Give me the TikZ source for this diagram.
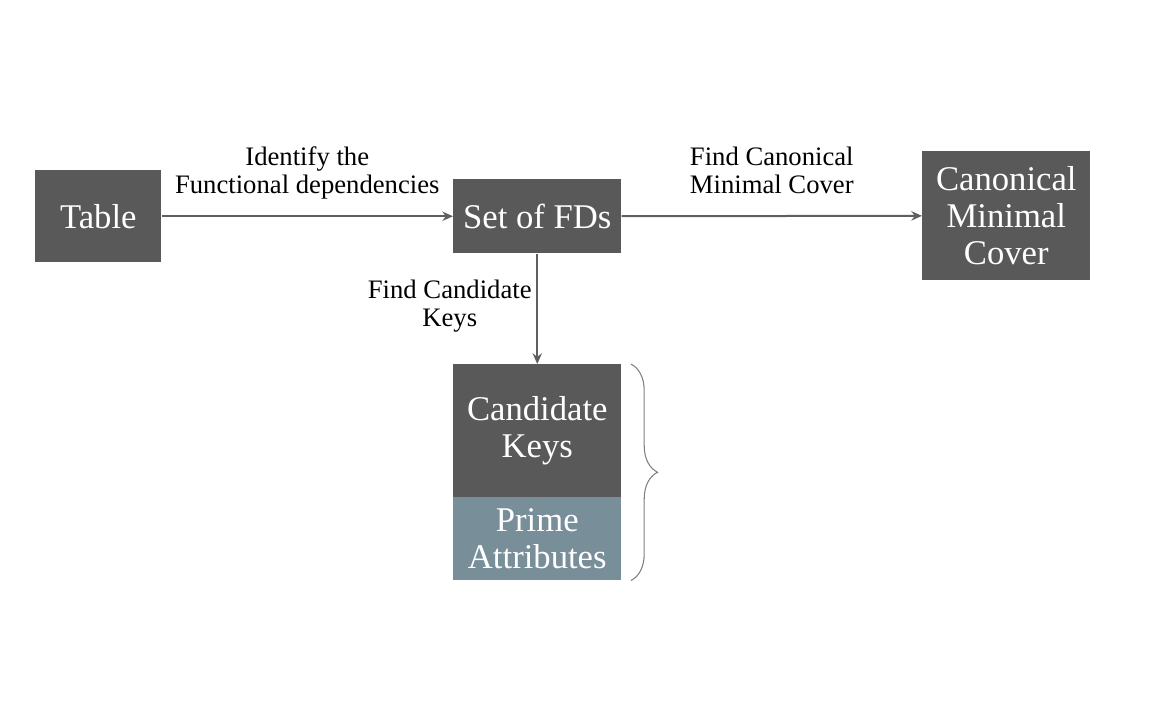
\documentclass[tikz,border=0pt]{standalone}
\usepackage{fontspec}
\setmainfont{Liberation Serif}
\usepackage{tikz}
\usetikzlibrary{arrows.meta}
\usetikzlibrary{positioning}
\usetikzlibrary{decorations.pathreplacing}
\definecolor{boxgray}{HTML}{595959}
\definecolor{primeblue}{HTML}{788E99}
\definecolor{linegray}{HTML}{5F5F5F}
\tikzset{
  stepbox/.style={rectangle, fill=boxgray, text=white, align=center, inner sep=0pt, anchor=north west, font=\fontsize{26pt}{28pt}\selectfont},
  flow/.style={draw=linegray, line width=1.5pt, -{Stealth[length=8pt,width=7pt]}},
  steplabel/.style={align=center, inner sep=0pt, font=\fontsize{20pt}{21pt}\selectfont}
}
\begin{document}
\begin{tikzpicture}[x=0.75pt, y=-0.75pt]
\useasboundingbox (0,0) rectangle (1152,720);

\node at (35,170) [stepbox, minimum width = 94.5pt, minimum height = 69pt] (table) {Table};
\node at (453,179) [stepbox, minimum width = 126pt, minimum height = 55.5pt] (fds) {Set of FDs};
\node at (922,151) [stepbox, minimum width = 126pt, minimum height = 96.75pt] (cover) {Canonical\\Minimal\\Cover};
\node at (453,364) [stepbox, minimum width = 126pt, minimum height = 99.75pt] (keys) {Candidate\\Keys};
\node at (453,497) [stepbox, fill=primeblue, minimum width = 126pt, minimum height = 62.25pt] (prime) {Prime\\Attributes};

\draw [flow] (table) -- node [steplabel, above=12pt] {Identify the\\Functional dependencies} (fds);
\draw [flow] (fds) -- node [steplabel, above=16pt] {Find Canonical\\Minimal Cover} (cover);
\draw [flow] (fds) -- node [steplabel, left=3.5pt, yshift=2pt] {Find Candidate\\Keys} (keys);

\draw [draw=gray, line width=0.8pt, decorate, decoration={brace, amplitude=20pt}] ([xshift=7pt]keys.north east) -- ([xshift=7pt]prime.south east);

\end{tikzpicture}
\end{document}
